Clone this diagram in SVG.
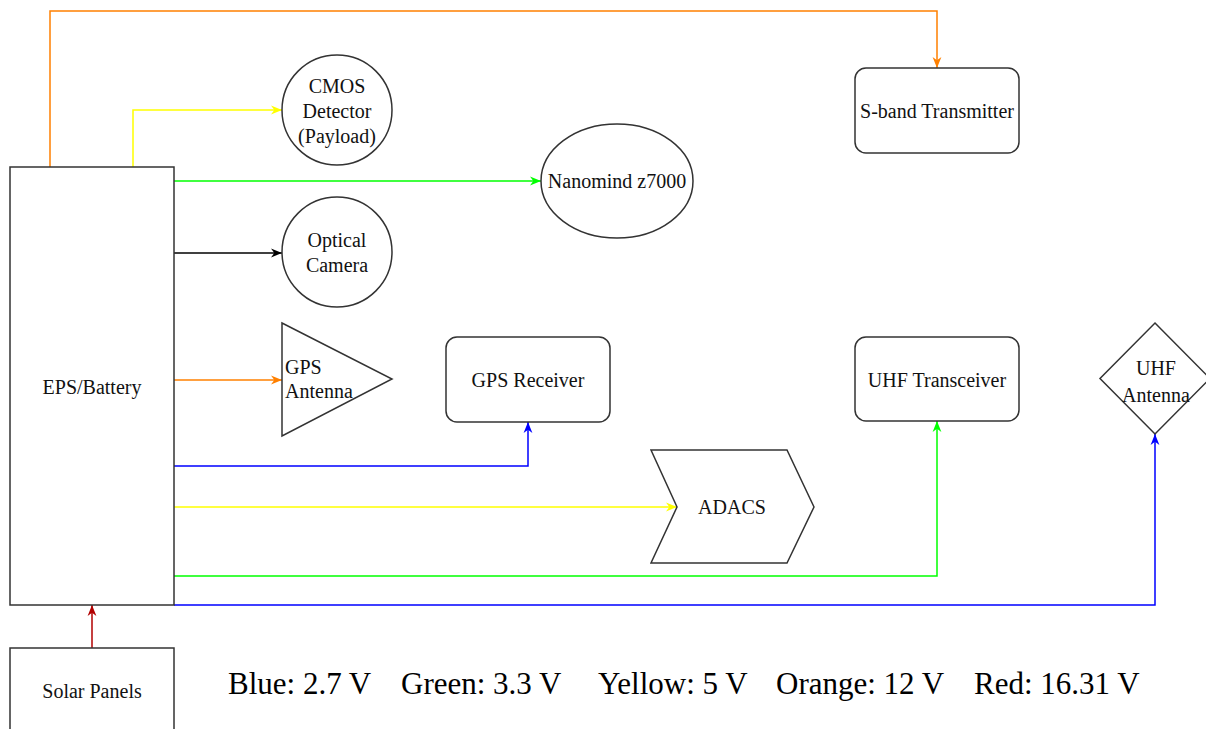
<svg xmlns="http://www.w3.org/2000/svg" width="1206" height="729" viewBox="0 0 1206 729">
<style>
.n{fill:#fff;stroke:#333;stroke-width:1.5}
.t{font-family:"Liberation Serif","Times New Roman",serif;font-size:20px;fill:#111;text-anchor:middle}
.s{text-anchor:start}
.l{font-family:"Liberation Serif","Times New Roman",serif;font-size:31px;fill:#000}
.c{fill:none;stroke-width:1.5}
</style>
<defs>
<marker id="aO" viewBox="0 0 10 10" refX="10" refY="5" markerWidth="11" markerHeight="11" markerUnits="userSpaceOnUse" orient="auto"><path d="M0,1 L10,5 L0,9 L3,5 Z" fill="#FF8000"/></marker>
<marker id="aY" viewBox="0 0 10 10" refX="10" refY="5" markerWidth="11" markerHeight="11" markerUnits="userSpaceOnUse" orient="auto"><path d="M0,1 L10,5 L0,9 L3,5 Z" fill="#FFFF00"/></marker>
<marker id="aG" viewBox="0 0 10 10" refX="10" refY="5" markerWidth="11" markerHeight="11" markerUnits="userSpaceOnUse" orient="auto"><path d="M0,1 L10,5 L0,9 L3,5 Z" fill="#00FF00"/></marker>
<marker id="aB" viewBox="0 0 10 10" refX="10" refY="5" markerWidth="11" markerHeight="11" markerUnits="userSpaceOnUse" orient="auto"><path d="M0,1 L10,5 L0,9 L3,5 Z" fill="#0000FF"/></marker>
<marker id="aK" viewBox="0 0 10 10" refX="10" refY="5" markerWidth="11" markerHeight="11" markerUnits="userSpaceOnUse" orient="auto"><path d="M0,1 L10,5 L0,9 L3,5 Z" fill="#000"/></marker>
<marker id="aR" viewBox="0 0 10 10" refX="10" refY="5" markerWidth="11" markerHeight="11" markerUnits="userSpaceOnUse" orient="auto"><path d="M0,1 L10,5 L0,9 L3,5 Z" fill="#B20000"/></marker>
</defs>
<rect width="1206" height="729" fill="#fff"/>
<g id="connectors">
<path class="c" stroke="#FF8000" d="M50,167 V11 H937 V68" marker-end="url(#aO)"/>
<path class="c" stroke="#FFFF00" d="M133,167 V110 H282" marker-end="url(#aY)"/>
<path class="c" stroke="#00FF00" d="M174,181 H541" marker-end="url(#aG)"/>
<path class="c" stroke="#000" d="M174,253 H282" marker-end="url(#aK)"/>
<path class="c" stroke="#FF8000" d="M174,380 H282" marker-end="url(#aO)"/>
<path class="c" stroke="#0000FF" d="M174,466 H528 V422" marker-end="url(#aB)"/>
<path class="c" stroke="#FFFF00" d="M174,507 H677" marker-end="url(#aY)"/>
<path class="c" stroke="#00FF00" d="M174,576 H937 V421" marker-end="url(#aG)"/>
<path class="c" stroke="#0000FF" d="M174,605 H1155 V434" marker-end="url(#aB)"/>
<path class="c" stroke="#B20000" d="M92,648 V605" marker-end="url(#aR)"/>
</g>
<g id="eps"><rect class="n" x="10" y="167" width="164" height="438"/><text class="t" x="92" y="394">EPS/Battery</text></g>
<g id="solar"><rect class="n" x="10" y="648" width="164" height="100"/><text class="t" x="92" y="698">Solar Panels</text></g>
<g id="cmos"><circle class="n" cx="337" cy="110" r="55"/><text class="t" x="337" y="93">CMOS</text><text class="t" x="337" y="118">Detector</text><text class="t" x="337" y="143">(Payload)</text></g>
<g id="nanomind"><ellipse class="n" cx="617" cy="181" rx="76" ry="57"/><text class="t" x="617" y="188">Nanomind z7000</text></g>
<g id="optical"><circle class="n" cx="337" cy="252" r="55"/><text class="t" x="337" y="247">Optical</text><text class="t" x="337" y="272">Camera</text></g>
<g id="gpsant"><path class="n" d="M282,323 L392,379 L282,436 Z"/><text class="t s" x="285" y="374">GPS</text><text class="t s" x="285" y="398">Antenna</text></g>
<g id="gpsrx"><rect class="n" x="446" y="337" width="164" height="85" rx="11"/><text class="t" x="528" y="387">GPS Receiver</text></g>
<g id="sband"><rect class="n" x="855" y="68" width="164" height="85" rx="11"/><text class="t" x="937" y="118">S-band Transmitter</text></g>
<g id="uhftrx"><rect class="n" x="855" y="337" width="164" height="84" rx="11"/><text class="t" x="937" y="387">UHF Transceiver</text></g>
<g id="uhfant"><path class="n" d="M1155,323 L1210,378.5 L1155,434 L1100,378.5 Z"/><text class="t" x="1156" y="375">UHF</text><text class="t" x="1156" y="402">Antenna</text></g>
<g id="adacs"><path class="n" d="M651,450 H787 L814,507 L787,563 H651 L677,507 Z"/><text class="t" x="732" y="514">ADACS</text></g>
<g id="legend">
<text class="l" x="228" y="694">Blue: 2.7 V</text>
<text class="l" x="401" y="694">Green: 3.3 V</text>
<text class="l" x="598" y="694">Yellow: 5 V</text>
<text class="l" x="776" y="694">Orange: 12 V</text>
<text class="l" x="974" y="694">Red: 16.31 V</text>
</g>
</svg>
